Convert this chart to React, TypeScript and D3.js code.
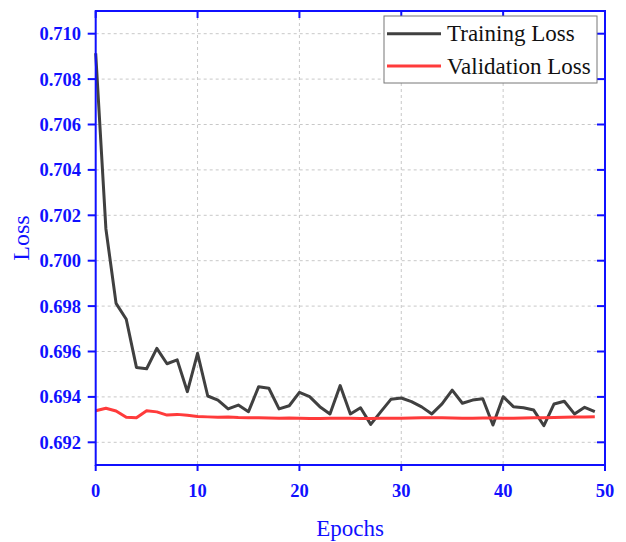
import React from "react";
import * as d3 from "d3";

// Loss per epoch (epochs 0..49)
const epochs: number[] = d3.range(0, 50);
const trainingLoss: number[] = [
  0.70914, 0.70141, 0.69812, 0.69742, 0.6953, 0.69524, 0.69614, 0.69546, 0.69563, 0.69423,
  0.69592, 0.69404, 0.69386, 0.69347, 0.69364, 0.69335, 0.69445, 0.69438, 0.69347, 0.69361,
  0.6942, 0.69401, 0.69357, 0.69325, 0.6945, 0.69325, 0.69352, 0.69279, 0.69335, 0.6939,
  0.69395, 0.69379, 0.69356, 0.69325, 0.69369, 0.6943, 0.69372, 0.69386, 0.69392, 0.69276,
  0.69401, 0.69357, 0.69352, 0.69342, 0.69273, 0.69369, 0.69381, 0.69325, 0.69354, 0.69335,
];
const validationLoss: number[] = [
  0.69339, 0.6935, 0.69338, 0.6931, 0.69308, 0.69339, 0.69334, 0.6932, 0.69323, 0.69319,
  0.69314, 0.69312, 0.6931, 0.69311, 0.69309, 0.69308, 0.69308, 0.69307, 0.69306, 0.69307,
  0.69306, 0.69305, 0.69305, 0.69306, 0.69306, 0.69306, 0.69305, 0.69305, 0.69306, 0.69306,
  0.69306, 0.69307, 0.69308, 0.69308, 0.69308, 0.69307, 0.69306, 0.69306, 0.69307, 0.69307,
  0.69306, 0.69306, 0.69307, 0.69308, 0.69308, 0.69309, 0.6931, 0.69311, 0.69312, 0.69313,
];
const xTicks: number[] = [0, 10, 20, 30, 40, 50];
const yTicks: number[] = [0.692, 0.694, 0.696, 0.698, 0.7, 0.702, 0.704, 0.706, 0.708, 0.71];
const seriesNames: string[] = ["Training Loss", "Validation Loss"];

const W = 626;
const H = 542;
const left = 95.7;
const right = 605;
const top = 11;
const bottom = 465;
const BLUE = "#1010ff";
const FONT = "'Liberation Serif', 'Times New Roman', serif";

export default function App() {
  const x = d3.scaleLinear().domain([0, 50]).range([left, right]);
  const y = d3.scaleLinear().domain([0.691, 0.711]).range([bottom, top]);

  const line = d3
    .line<number>()
    .x((_, i) => x(epochs[i]))
    .y((d) => y(d));

  const colors = ["#404040", "#ff3b3b"];
  const series = [trainingLoss, validationLoss];

  return (
    <svg width={W} height={H} style={{ position: "absolute", left: 0, top: 0, background: "#fff" }}>
      <rect x={0} y={0} width={W} height={H} fill="#fff" />
      {/* grid */}
      <g stroke="#c8c8c8" strokeWidth={1} strokeDasharray="3,3">
        {xTicks
          .filter((t) => t > 0 && t < 50)
          .map((t) => (
            <line key={"gx" + t} x1={x(t)} x2={x(t)} y1={top} y2={bottom} />
          ))}
        {yTicks.map((t) => (
          <line key={"gy" + t} x1={left} x2={right} y1={y(t)} y2={y(t)} />
        ))}
      </g>

      {/* series */}
      {series.map((s, k) => (
        <path
          key={k}
          d={line(s) || ""}
          fill="none"
          stroke={colors[k]}
          strokeWidth={3}
          strokeLinejoin="round"
        />
      ))}

      {/* frame */}
      <rect x={left} y={top} width={right - left} height={bottom - top} fill="none" stroke={BLUE} strokeWidth={2} />

      {/* ticks */}
      <g stroke={BLUE} strokeWidth={2}>
        {yTicks.map((t) => (
          <g key={"ty" + t}>
            <line x1={left - 8} x2={left} y1={y(t)} y2={y(t)} />
            <line x1={right - 8} x2={right} y1={y(t)} y2={y(t)} />
          </g>
        ))}
        {xTicks.map((t) => (
          <g key={"tx" + t}>
            <line x1={x(t)} x2={x(t)} y1={bottom} y2={bottom + 6} />
            <line x1={x(t)} x2={x(t)} y1={top} y2={top + 7} />
          </g>
        ))}
      </g>

      {/* tick labels */}
      <g fill={BLUE} fontFamily={FONT} fontWeight="bold" fontSize={18.5}>
        {yTicks.map((t) => (
          <text key={"ly" + t} x={81} y={y(t)} dy="0.35em" textAnchor="end">
            {d3.format(".3f")(t)}
          </text>
        ))}
        {xTicks.map((t) => (
          <text key={"lx" + t} x={x(t)} y={497} textAnchor="middle">
            {t}
          </text>
        ))}
      </g>

      {/* axis titles */}
      <text x={350} y={536} textAnchor="middle" fill={BLUE} fontFamily={FONT} fontSize={23}>
        Epochs
      </text>
      <text
        transform={`translate(29,238) rotate(-90)`}
        textAnchor="middle"
        fill={BLUE}
        fontFamily={FONT}
        fontSize={24}
      >
        Loss
      </text>

      {/* legend */}
      <g>
        <rect x={384} y={16} width={213} height={67} fill="#fff" stroke="#777" strokeWidth={1} />
        {seriesNames.map((name, i) => (
          <g key={name}>
            <line x1={387} x2={441} y1={33.7 + i * 32.3} y2={33.7 + i * 32.3} stroke={colors[i]} strokeWidth={3} />
            <text x={447} y={33.7 + i * 32.3} dy="0.33em" fill="#111" fontFamily={FONT} fontSize={23}>
              {name}
            </text>
          </g>
        ))}
      </g>
    </svg>
  );
}
